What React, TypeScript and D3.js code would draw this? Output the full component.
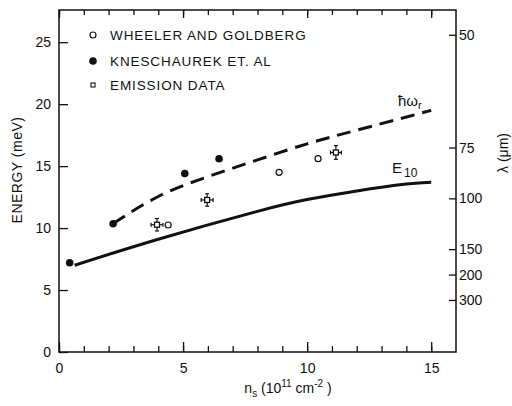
import React, { useEffect, useRef } from 'react'
import * as d3 from 'd3'

const width = 512
const height = 406
const margin = { top: 10, left: 59, bottom: 54, right: 56 }
const iwidth = width - margin.left - margin.right
const iheight = height - margin.top - margin.bottom

// Kneschaurek et al. (filled circles)
const kneschaurekX = [0.43, 2.18, 5.07, 6.45]
const kneschaurekY = [7.2, 10.35, 14.4, 15.6]

// Wheeler and Goldberg (open circles)
const wheelerX = [4.4, 8.87, 10.44]
const wheelerY = [10.25, 14.5, 15.6]

// emission data (small squares with error bars)
const emissionX = [3.95, 5.97, 11.16]
const emissionY = [10.27, 12.27, 16.1]
const emissionXErr = [0.24, 0.24, 0.22]
const emissionYErr = [0.5, 0.5, 0.55]

// hbar omega_r (dashed)
const hwX = [2.18, 4, 6, 8, 10, 12, 15]
const hwY = [10.35, 12.55, 14.15, 15.5, 16.8, 17.9, 19.5]

// E10 (solid)
const e10X = [0.63, 4, 8, 10, 12, 14, 15]
const e10Y = [7.0, 9.1, 11.35, 12.3, 13.0, 13.55, 13.7]

// axis ticks
const xMajor = [0, 5, 10, 15]
const yMajor = [0, 5, 10, 15, 20, 25]
const lambdaLabels = ['50', '75', '100', '150', '200', '300']
const lambdaEnergy = [25.6, 16.5, 12.4, 8.3, 6.25, 4.2]

const legendLabels = ['WHEELER AND GOLDBERG', 'KNESCHAUREK ET. AL', 'EMISSION DATA']

const font = "'Liberation Sans', Arial, sans-serif"

const App = () => {
  const svgR = useRef<SVGSVGElement>(null)

  useEffect(() => {
    const svg = d3.select(svgR.current)
    svg.selectAll('*').remove()

    const x = d3.scaleLinear().domain([0, 16]).range([0, iwidth])
    const y = d3.scaleLinear().domain([0, 27.6]).range([iheight, 0])

    const g = svg.append('g').attr('transform', `translate(${margin.left},${margin.top})`)

    // frame
    g.append('rect')
      .attr('width', iwidth)
      .attr('height', iheight)
      .attr('fill', 'none')
      .attr('stroke', '#111')
      .attr('stroke-width', 1.5)

    const styleAxis = (sel: any) => {
      sel.select('.domain').remove()
      sel.selectAll('line').attr('stroke', '#111').attr('stroke-width', 1.3)
      sel.selectAll('text').attr('font-family', font).attr('font-size', 14).attr('fill', '#111')
    }

    // bottom
    g.append('g')
      .attr('transform', `translate(0,${iheight})`)
      .call(d3.axisBottom(x).tickValues(d3.range(0, 16)).tickSize(-6).tickFormat(() => ''))
      .call(styleAxis)
    g.append('g')
      .attr('transform', `translate(0,${iheight})`)
      .call(d3.axisBottom(x).tickValues(xMajor).tickSize(-10).tickPadding(11).tickFormat(d3.format('d')))
      .call(styleAxis)

    // top
    g.append('g')
      .call(d3.axisTop(x).tickValues(d3.range(0, 16)).tickSize(-5).tickFormat(() => ''))
      .call(styleAxis)
    g.append('g')
      .call(d3.axisTop(x).tickValues(xMajor).tickSize(-8).tickFormat(() => ''))
      .call(styleAxis)

    // left
    g.append('g')
      .call(d3.axisLeft(y).tickValues(yMajor).tickSize(-9).tickPadding(8).tickFormat(d3.format('d')))
      .call(styleAxis)

    // right (wavelength)
    g.append('g')
      .attr('transform', `translate(${iwidth},0)`)
      .call(d3.axisRight(y).tickValues(lambdaEnergy).tickSize(-7).tickPadding(3)
        .tickFormat((d, i) => lambdaLabels[i]))
      .call(styleAxis)

    // curves
    const hwData = hwX.map((v, i) => [v, hwY[i]] as [number, number])
    const e10Data = e10X.map((v, i) => [v, e10Y[i]] as [number, number])
    const line = d3.line<[number, number]>()
      .x(d => x(d[0]))
      .y(d => y(d[1]))
      .curve(d3.curveNatural)

    g.append('path')
      .attr('d', line(hwData))
      .attr('fill', 'none')
      .attr('stroke', '#111')
      .attr('stroke-width', 3)
      .attr('stroke-dasharray', '14,8')

    g.append('path')
      .attr('d', line(e10Data))
      .attr('fill', 'none')
      .attr('stroke', '#111')
      .attr('stroke-width', 3)

    // emission data
    const em = g.selectAll('.em').data(emissionX.map((v, i) => i)).enter().append('g')
      .attr('transform', i => `translate(${x(emissionX[i])},${y(emissionY[i])})`)
    const bar = (sel: any, x1: any, x2: any, y1: any, y2: any) =>
      sel.append('line')
        .attr('x1', x1).attr('x2', x2).attr('y1', y1).attr('y2', y2)
        .attr('stroke', '#111').attr('stroke-width', 1.2)
    const ex = (i: number, s: number) => x(emissionX[i] + s * emissionXErr[i]) - x(emissionX[i])
    const ey = (i: number, s: number) => y(emissionY[i] + s * emissionYErr[i]) - y(emissionY[i])
    bar(em, (i: number) => ex(i, -1), (i: number) => ex(i, 1), 0, 0)
    bar(em, 0, 0, (i: number) => ey(i, -1), (i: number) => ey(i, 1))
    bar(em, -2, 2, (i: number) => ey(i, -1), (i: number) => ey(i, -1))
    bar(em, -2, 2, (i: number) => ey(i, 1), (i: number) => ey(i, 1))
    bar(em, (i: number) => ex(i, -1), (i: number) => ex(i, -1), -2, 2)
    bar(em, (i: number) => ex(i, 1), (i: number) => ex(i, 1), -2, 2)
    em.append('rect')
      .attr('x', -2.5).attr('y', -2.5).attr('width', 5).attr('height', 5)
      .attr('fill', 'white').attr('stroke', '#111').attr('stroke-width', 1.3)

    // Wheeler open circles
    g.selectAll('.wg').data(wheelerX).enter().append('circle')
      .attr('cx', d => x(d))
      .attr('cy', (d, i) => y(wheelerY[i]))
      .attr('r', 3)
      .attr('fill', 'white')
      .attr('stroke', '#111')
      .attr('stroke-width', 1.2)

    // Kneschaurek filled circles
    g.selectAll('.kn').data(kneschaurekX).enter().append('circle')
      .attr('cx', d => x(d))
      .attr('cy', (d, i) => y(kneschaurekY[i]))
      .attr('r', 3.8)
      .attr('fill', '#111')

    // legend
    const lg = svg.append('g').attr('font-family', font).attr('font-size', 13.5).attr('fill', '#111')
    lg.append('circle').attr('cx', 93).attr('cy', 35).attr('r', 3)
      .attr('fill', 'white').attr('stroke', '#111').attr('stroke-width', 1.2)
    lg.append('circle').attr('cx', 93).attr('cy', 61).attr('r', 3.8).attr('fill', '#111')
    lg.append('rect').attr('x', 91).attr('y', 83).attr('width', 4).attr('height', 4)
      .attr('fill', 'white').attr('stroke', '#111').attr('stroke-width', 1.1)
    legendLabels.forEach((t, i) => {
      lg.append('text')
        .attr('x', 110)
        .attr('y', [35, 61, 85][i])
        .attr('dy', '0.36em')
        .attr('letter-spacing', 0.9)
        .text(t)
    })

    // curve labels
    const hl = svg.append('text').attr('font-family', font).attr('font-size', 15).attr('fill', '#111')
      .attr('x', 398).attr('y', 106)
    hl.append('tspan').text('ħω')
    hl.append('tspan').attr('font-size', 11).attr('dy', 3).text('r')

    const el = svg.append('text').attr('font-family', font).attr('font-size', 15).attr('fill', '#111')
      .attr('x', 392).attr('y', 173)
    el.append('tspan').text('E')
    el.append('tspan').attr('font-size', 12).attr('dx', 2).attr('dy', 4).text('10')

    // axis titles
    svg.append('text')
      .attr('transform', 'translate(22,170) rotate(-90)')
      .attr('text-anchor', 'middle')
      .attr('font-family', font).attr('font-size', 14).attr('fill', '#111')
      .attr('letter-spacing', 0.5)
      .text('ENERGY (meV)')

    svg.append('text')
      .attr('transform', 'translate(508,153) rotate(-90)')
      .attr('text-anchor', 'middle')
      .attr('font-family', font).attr('font-size', 14).attr('fill', '#111')
      .text('λ (μm)')

    const xl = svg.append('text')
      .attr('x', 288).attr('y', 393)
      .attr('text-anchor', 'middle')
      .attr('font-family', font).attr('font-size', 14).attr('fill', '#111')
    xl.append('tspan').text('n')
    xl.append('tspan').attr('font-size', 10).attr('dy', 4).text('s')
    xl.append('tspan').attr('dy', -4).text(' (10')
    xl.append('tspan').attr('font-size', 10).attr('dy', -6).text('11')
    xl.append('tspan').attr('dy', 6).text(' cm')
    xl.append('tspan').attr('font-size', 10).attr('dy', -6).text('-2')
    xl.append('tspan').attr('dy', 6).text(' )')
  }, [])

  return (
    <div style={{ position: 'absolute', left: 0, top: 0, background: 'white' }}>
      <svg ref={svgR} width={width} height={height}></svg>
    </div>
  )
}

export default App
